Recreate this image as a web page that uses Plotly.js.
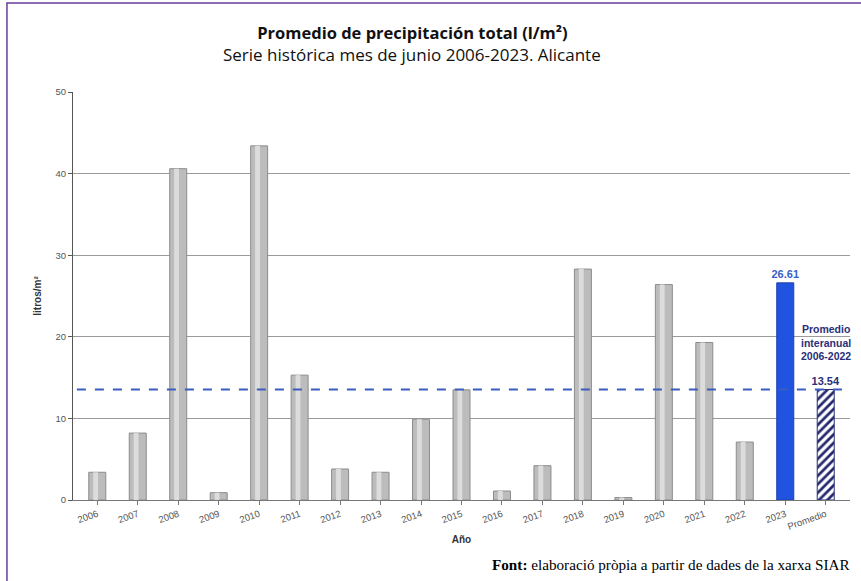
<!DOCTYPE html>
<html>
<head>
<meta charset="utf-8">
<script src="https://cdn.plot.ly/plotly-3.0.1.min.js"></script>
<style>
html,body{margin:0;padding:0;background:#fff;overflow:hidden;}
#chart{width:861px;height:581px;}
</style>
</head>
<body>
<div id="chart"></div>
<script>
const years = ["2006","2007","2008","2009","2010","2011","2012","2013","2014","2015","2016","2017","2018","2019","2020","2021","2022"];
const rainfall = [3.4, 8.2, 40.6, 0.9, 43.4, 15.3, 3.8, 3.4, 9.9, 13.5, 1.1, 4.2, 28.3, 0.3, 26.4, 19.3, 7.1];
const currentYear = "2023";
const currentValue = 26.61;
const avgLabel = "Promedio";
const avgValue = 13.54;
const yTicks = [0, 10, 20, 30, 40, 50];

const traces = [
  {
    type: "bar", x: years, y: rainfall, width: 0.42,
    marker: {color: "#bcbcbc", line: {color: "#8c8c8c", width: 1}},
    hoverinfo: "x+y", showlegend: false
  },
  {
    type: "bar", x: years, y: rainfall, width: 0.12, offset: -0.1,
    marker: {color: "#dcdcdc", line: {width: 0}},
    hoverinfo: "skip", showlegend: false
  },
  {
    type: "bar", x: [currentYear], y: [currentValue], width: 0.42,
    marker: {color: "#2053e0", line: {color: "#1a3fb0", width: 1}},
    text: ["<b>" + currentValue.toFixed(2) + "</b>"], textposition: "outside",
    constraintext: "none",
    textfont: {family: "Arial, Liberation Sans, sans-serif", size: 11, color: "#3a5fc8"},
    cliponaxis: false, showlegend: false
  },
  {
    type: "bar", x: [avgLabel], y: [avgValue], width: 0.42,
    marker: {color: "#ffffff", line: {color: "#2a2f7a", width: 1},
      pattern: {shape: "/", fgcolor: "#23286e", bgcolor: "#ffffff", size: 6, solidity: 0.45}},
    text: ["<b>" + avgValue.toFixed(2) + "</b>"], textposition: "outside",
    constraintext: "none",
    textfont: {family: "Arial, Liberation Sans, sans-serif", size: 11, color: "#2a2f7a"},
    cliponaxis: false, showlegend: false
  }
];

const layout = {
  width: 861, height: 581,
  paper_bgcolor: "#ffffff", plot_bgcolor: "#ffffff",
  margin: {l: 73, r: 11, t: 92, b: 81},
  barmode: "overlay",
  title: {
    text: "<b>Promedio de precipitación total (l/m²)</b>",
    font: {family: "Open Sans, sans-serif", size: 16.5, color: "#111"},
    x: 0.479, xanchor: "center", xref: "container",
    y: 0.943, yanchor: "middle", yref: "container"
  },
  xaxis: {
    type: "category",
    categoryorder: "array",
    categoryarray: years.concat([currentYear, avgLabel]),
    range: [-0.6, 18.6],
    tickangle: -20,
    tickfont: {family: "Arial, Liberation Sans, sans-serif", size: 9.5, color: "#555"},
    showline: true, linecolor: "#777", linewidth: 1,
    ticks: "outside", ticklen: 4, tickcolor: "#777",
    showgrid: false,
    title: {text: "<b>Año</b>", font: {family: "Arial, Liberation Sans, sans-serif", size: 10, color: "#333"}, standoff: 5}
  },
  yaxis: {
    range: [0, 50],
    tickvals: yTicks,
    tickfont: {family: "Arial, Liberation Sans, sans-serif", size: 9.5, color: "#555"},
    showline: true, linecolor: "#555", linewidth: 1,
    ticks: "outside", ticklen: 4, tickcolor: "#555",
    showgrid: true, gridcolor: "#9a9a9a", gridwidth: 1,
    zeroline: false,
    title: {text: "<b>litros/m²</b>", font: {family: "Arial, Liberation Sans, sans-serif", size: 10, color: "#333"}, standoff: 12}
  },
  shapes: [
    {type: "line", xref: "paper", x0: 0.005, x1: 1, yref: "y", y0: avgValue, y1: avgValue,
     line: {color: "#3a5cc0", width: 2.2, dash: "dash"}, layer: "above"},
    {type: "rect", xref: "paper", yref: "paper", x0: -0.085, x1: 1.2, y0: -0.4, y1: 1.218,
     line: {color: "#6a3d9a", width: 1.5}, fillcolor: "rgba(0,0,0,0)"}
  ],
  annotations: [
    {xref: "paper", yref: "paper", x: 0.436, y: 1.0907, xanchor: "center", yanchor: "middle", showarrow: false,
     text: "Serie histórica mes de junio 2006-2023. Alicante",
     font: {family: "Open Sans, sans-serif", size: 17, color: "#111"}},
    {xref: "x", yref: "y", x: avgLabel, y: 19.3, yanchor: "middle", showarrow: false,
     text: "<b>Promedio<br>interanual<br>2006-2022</b>",
     font: {family: "Arial, Liberation Sans, sans-serif", size: 10.5, color: "#2a2f7a"}, align: "center"},
    {xref: "paper", yref: "paper", x: 0.537, y: -0.159, xanchor: "left", yanchor: "middle", showarrow: false,
     text: "<b>Font:</b> elaboració pròpia a partir de dades de la xarxa SIAR",
     font: {family: "Liberation Serif, Times New Roman, serif", size: 15.2, color: "#000"}}
  ]
};

Plotly.newPlot("chart", traces, layout, {displayModeBar: false, staticPlot: true});
</script>
</body>
</html>
